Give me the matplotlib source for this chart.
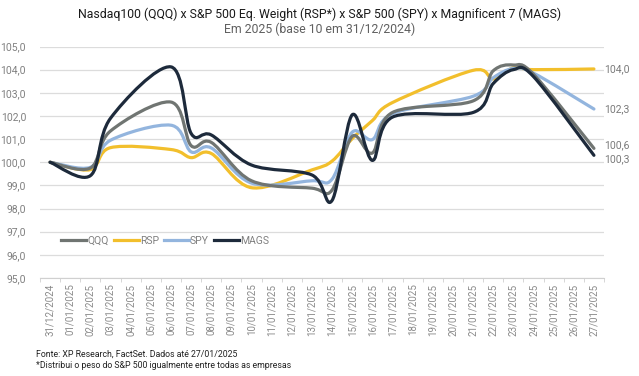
import numpy as np
import matplotlib
matplotlib.use('Agg')
import matplotlib.pyplot as plt
from matplotlib.path import Path
from matplotlib.patches import PathPatch
from matplotlib.lines import Line2D

# calendar labels (every day on the axis)
date_labels = ['31/12/2024'] + ['%02d/01/2025' % d for d in range(1, 28)]
# trading days, as index into date_labels
trade_idx = [0, 2, 3, 6, 7, 8, 10, 13, 14, 15, 16, 17, 21, 22, 23, 24, 27]

qqq = [100.0, 99.75, 101.35, 102.6, 100.72, 100.86, 99.2, 98.88, 98.8, 101.12,
       100.4, 102.15, 102.65, 103.95, 104.2, 103.8, 100.6]
rsp = [100.0, 99.68, 100.63, 100.55, 100.2, 100.38, 98.9, 99.67, 100.05, 101.02,
       101.8, 102.58, 103.97, 103.6, 104.08, 104.0, 104.03]
spy = [100.0, 99.78, 100.95, 101.6, 100.45, 100.62, 99.1, 99.2, 99.27, 101.3,
       100.98, 102.1, 102.85, 103.65, 104.05, 103.85, 102.3]
mags = [100.0, 99.42, 101.9, 104.12, 101.25, 101.18, 99.88, 99.45, 98.35, 102.05,
        100.08, 101.95, 102.15, 103.4, 104.0, 103.7, 100.3]

series = [('QQQ', qqq, '#707572'),
          ('RSP', rsp, '#f2bf2c'),
          ('SPY', spy, '#93b5de'),
          ('MAGS', mags, '#1d2a3b')]
zorders = {'RSP': 2, 'SPY': 3, 'QQQ': 4, 'MAGS': 5}


def smooth_path(x, y):
    # excel style smoothed line: catmull-rom segments as cubic beziers
    pts = np.column_stack([x, y]).astype(float)
    n = len(pts)
    verts = [pts[0]]
    codes = [Path.MOVETO]
    for i in range(n - 1):
        p0 = pts[i - 1] if i > 0 else pts[i]
        p1 = pts[i]
        p2 = pts[i + 1]
        p3 = pts[i + 2] if i + 2 < n else pts[i + 1]
        verts += [p1 + (p2 - p0) / 6., p2 - (p3 - p1) / 6., p2]
        codes += [Path.CURVE4] * 3
    return Path(verts, codes)


plt.rcParams['font.family'] = ['Roboto', 'DejaVu Sans']
fig = plt.figure(figsize=(6.39, 3.76), dpi=100)
ax = fig.add_axes([40 / 639, 1 - 278 / 376, 564 / 639, 231.5 / 376])

handles = []
for name, vals, col in series:
    p = PathPatch(smooth_path(trade_idx, vals), facecolor='none', edgecolor=col,
                  lw=2.3, capstyle='round', joinstyle='round', zorder=zorders[name])
    ax.add_patch(p)
    handles.append(Line2D([], [], color=col, lw=2.3, label=name))

ax.set_xlim(-0.5, len(date_labels) - 0.5)
ax.set_ylim(95, 105)
ax.set_yticks(np.arange(95, 106, 1))
ax.set_yticklabels([('%.1f' % v).replace('.', ',') for v in np.arange(95, 106, 1)])
ax.set_xticks(range(len(date_labels)))
ax.set_xticklabels(date_labels, rotation=90)
ax.set_xticks(np.arange(-0.5, len(date_labels), 1), minor=True)
ax.tick_params(axis='x', which='major', length=0, pad=4, labelsize=7, colors='#8a8a8a')
ax.tick_params(axis='x', which='minor', length=3, color='#d0d0d0')
ax.tick_params(axis='y', length=0, pad=10, labelsize=7.5, colors='#808080')
ax.grid(axis='y', color='#dcdcdc', lw=0.9)
ax.set_axisbelow(True)
for s in ['top', 'right', 'left']:
    ax.spines[s].set_visible(False)
ax.spines['bottom'].set_color('#d0d0d0')

# end labels
end_offsets = {'QQQ': 2, 'RSP': 0, 'SPY': 0, 'MAGS': -3}
for name, vals, col in series:
    ax.annotate(('%.1f' % vals[-1]).replace('.', ','), (trade_idx[-1], vals[-1]),
                xytext=(7, end_offsets[name]), textcoords='offset points',
                va='center', ha='left', fontsize=7.5, color='#7a7a7a')

ax.legend(handles=handles, loc='center', bbox_to_anchor=(0.222, 0.16), ncol=4,
          frameon=False, fontsize=7.5, handlelength=2.4, handletextpad=0.1,
          columnspacing=0.5, labelcolor='#808080')

fig.text(0.5, 1 - 14 / 376, 'Nasdaq100 (QQQ) x S&P 500 Eq. Weight (RSP*) x S&P 500 (SPY) x Magnificent 7 (MAGS)',
         ha='center', va='center', fontsize=8.8, color='#1a1a1a',
         family=['Liberation Sans Narrow', 'Roboto', 'DejaVu Sans'])
fig.text(0.5, 1 - 29 / 376, 'Em 2025 (base 10 em 31/12/2024)', ha='center', va='center',
         fontsize=8.8, color='#606060', family=['Liberation Sans Narrow', 'Roboto', 'DejaVu Sans'])
fig.text(36 / 639, 1 - 354 / 376, 'Fonte: XP Research, FactSet. Dados até 27/01/2025',
         ha='left', va='center', fontsize=6.3, color='#222222')
fig.text(36 / 639, 1 - 365 / 376, '*Distribui o peso do S&P 500 igualmente entre todas as empresas',
         ha='left', va='center', fontsize=6.3, color='#222222')

fig.savefig('out.png', dpi=100)
